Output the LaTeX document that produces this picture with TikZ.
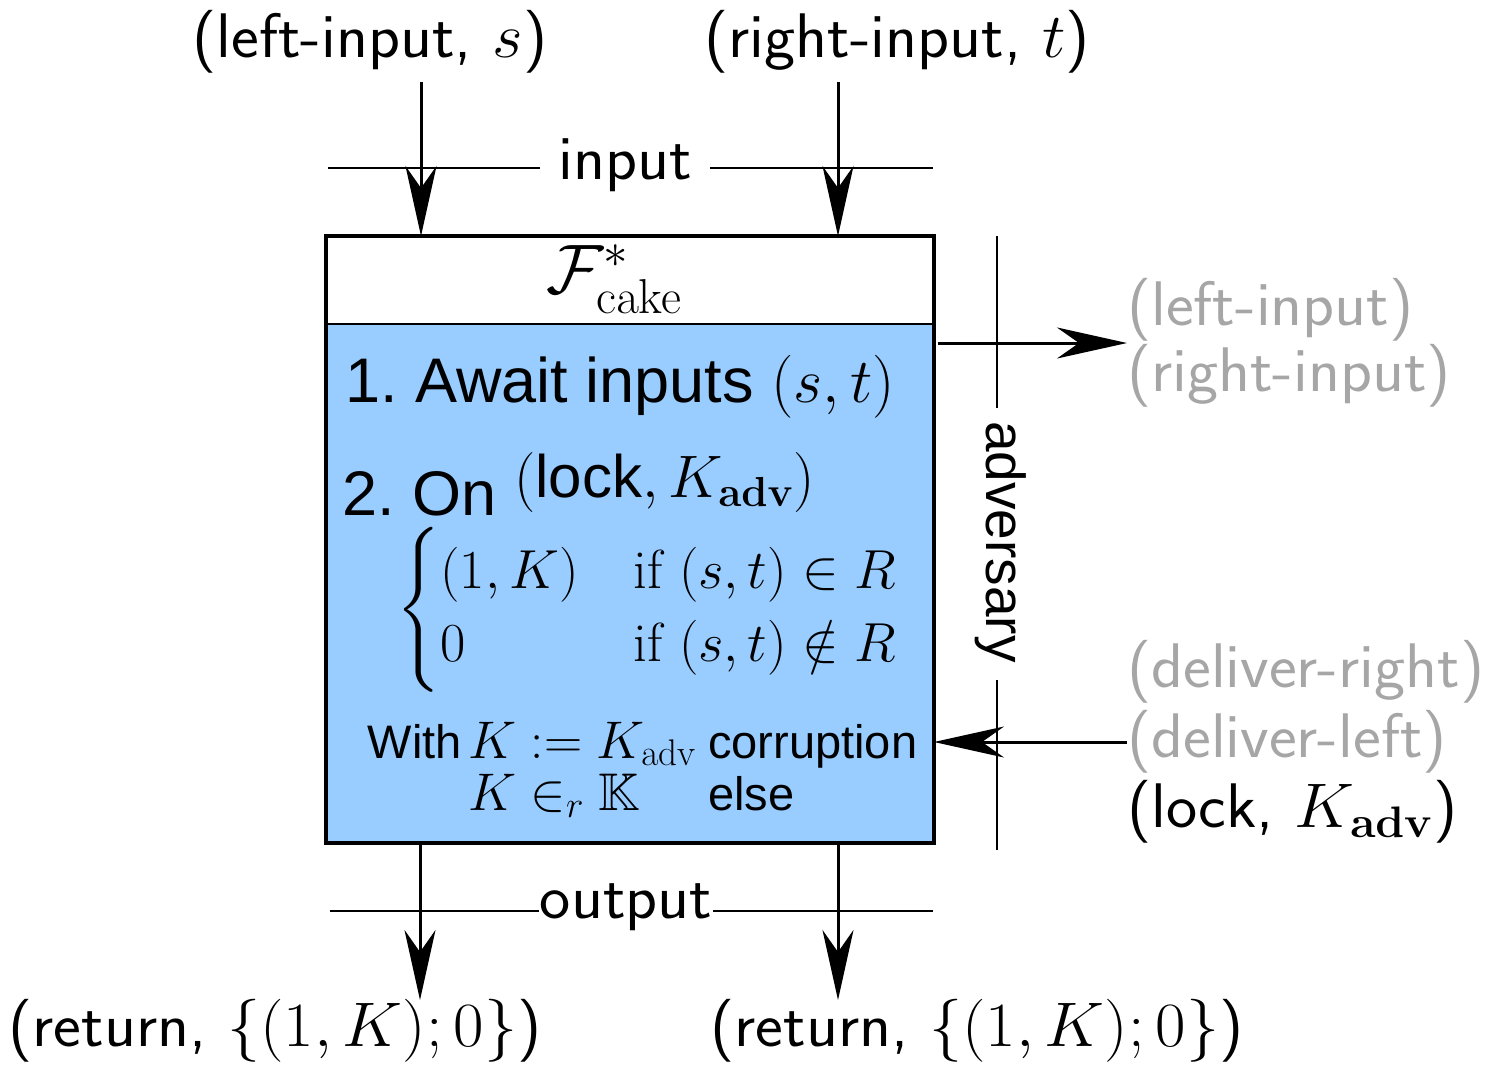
\RequirePackage{fix-cm}
\documentclass[tikz,border=0pt]{standalone}
\usepackage{amsmath,amssymb,graphicx}
\usepackage[no-math]{fontspec}
\newfontfamily\helv{Liberation Sans}
\usetikzlibrary{arrows.meta}
\definecolor{boxblue}{RGB}{153,204,255}
\definecolor{msggray}{RGB}{166,166,166}
\frenchspacing
% size and line spacing
\newcommand{\fszb}[2]{\fontsize{#1}{#2}\selectfont}
\newcommand{\fsz}[1]{\fontsize{#1}{1.2\dimexpr #1pt\relax}\selectfont}
\newcommand{\wide}[1]{\scalebox{1.05}[1]{#1}}
\tikzset{
  lbl/.style={font=\sffamily\fsz{63}, inner sep=0pt},
  msg/.style={inner sep=0pt, align=left},
  body/.style={font=\helv\fsz{63}, inner sep=0pt},
  note/.style={font=\helv\fsz{47}, inner sep=0pt},
  notemath/.style={font=\fsz{53}, inner sep=0pt},
  guide/.style={line width=1.2pt},
  flow/.style={line width=3pt, -{Stealth[length=70pt,width=31pt,inset=22pt]}},
}
\begin{document}
\begin{tikzpicture}[x=1pt,y=-1pt]
\useasboundingbox (0,0) rectangle (1489,1066);

% functionality box
\node[draw=none, fill=boxblue, minimum width=608pt, minimum height=607pt,
      inner sep=0pt, outer sep=0pt, anchor=north west] (func) at (326,236) {};
\fill[white] (func.north west) rectangle ([yshift=-88pt]func.north east);
\draw[line width=2pt] ([yshift=-88pt]func.north west) -- ([yshift=-88pt]func.north east);
\draw[line width=4.5pt] (func.north west) rectangle (func.south east);
\node[font=\fsz{70}, inner sep=0pt] (title) at (614,279) {$\mathcal{F}^{*}_{\mathrm{cake}}$};

% body text
\node[body, anchor=base west] (step1) at (345,402) {1. Await inputs $(s,t)$};
\node[body, anchor=base west] (step2) at (342,515) {2. On};
\node[font=\helv\fsz{60}, inner sep=0pt, anchor=base west] (lockmsg) at (514,497)
  {$(\text{lock}, K_{\mathbf{adv}})$};
\node[font=\fszb{55}{61}, inner sep=0pt, anchor=west] (cases) at (396,610)
  {$\begin{cases} (1,K) & \text{if } (s,t)\in R\\ 0 & \text{if } (s,t)\notin R\end{cases}$};
\node[note, anchor=base east] (with) at (462,758) {With};
\node[notemath, anchor=base west] (kset) at (468,758) {$K := K_{\mathrm{adv}}$};
\node[note, anchor=base west] (corr) at (708,758) {corruption};
\node[notemath, anchor=base west] (krand) at (468,810) {$K \in_r \mathbb{K}$};
\node[note, anchor=base west] (else) at (708,810) {else};

% inputs
\node[lbl] (linp) at (370,42) {\wide{(left-input, $s$)}};
\node[lbl] (rinp) at (897,42) {\wide{(right-input, $t$)}};
\coordinate (linpS) at (421,82);
\coordinate (rinpS) at (838,82);
\draw[flow] (linpS) -- (linpS |- func.north);
\draw[flow] (rinpS) -- (rinpS |- func.north);
\node[lbl, inner xsep=18pt] (inlbl) at (625,165) {\wide{input}};
\draw[guide] (328,168) -- (inlbl.west |- 0,168);
\draw[guide] (inlbl.east |- 0,168) -- (933,168);

% outputs
\node[lbl] (lret) at (275,1031) {\wide{(return, $\{(1,K);0\}$)}};
\node[lbl] (rret) at (977,1031) {\wide{(return, $\{(1,K);0\}$)}};
\coordinate (loutE) at (420,1000);
\coordinate (routE) at (838,1000);
\draw[flow] (loutE |- func.south) -- (loutE);
\draw[flow] (routE |- func.south) -- (routE);
\node[lbl, inner xsep=1pt] (outlbl) at (626,907) {\wide{output}};
\draw[guide] (330,911) -- (outlbl.west |- 0,911);
\draw[guide] (outlbl.east |- 0,911) -- (933,911);

% adversary interface
\node[font=\helv\fsz{55}, inner sep=0pt, rotate=-90] (adv) at (1001,542) {adversary};
\draw[guide] (997,236) -- (997,408);
\draw[guide] (997,680) -- (997,850);
\node[msg, font=\sffamily\fszb{63}{66}, text=msggray, anchor=west] (leak) at (1127,343)
  {\wide{(left-input)}\\\wide{(right-input)}};
\node[msg, font=\sffamily\fszb{63}{70}, anchor=west] (ctrl) at (1127,742)
  {\wide{\textcolor{msggray}{(deliver-right)}}\\\wide{\textcolor{msggray}{(deliver-left)}}\\\wide{(lock, $K_{\mathbf{adv}}$)}};
\coordinate (leakS) at (938,343);
\draw[flow] (leakS) -- (leak.west);
\draw[flow] (ctrl.west |- 0,742) -- (func.east |- 0,742);
\end{tikzpicture}
\end{document}
